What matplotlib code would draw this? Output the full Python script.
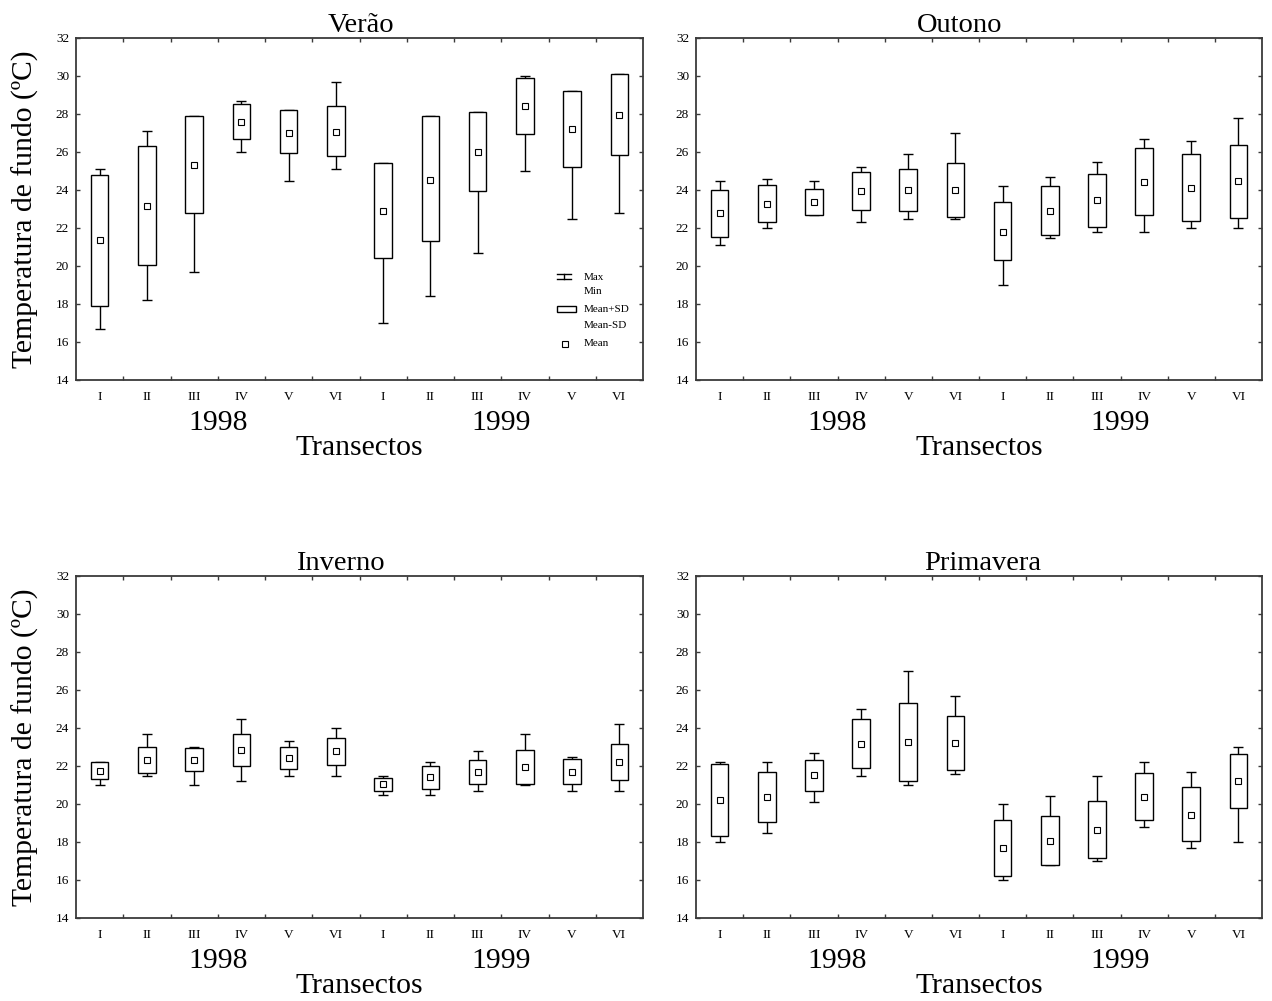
import numpy as np
import matplotlib
matplotlib.use('Agg')
from matplotlib import pyplot as plt
from matplotlib.patches import Rectangle

plt.rcParams['font.family'] = ['Liberation Serif', 'DejaVu Serif']

transectos = ['I', 'II', 'III', 'IV', 'V', 'VI'] * 2
anos = ['1998', '1999']

# per season: max, mean+SD, mean, mean-SD, min (1998 I..VI then 1999 I..VI)
verao_max = [25.1, 27.1, 27.9, 28.7, 28.2, 29.7, 25.4, 27.9, 28.1, 30.0, 29.2, 30.1]
verao_hi = [24.8, 26.3, 27.9, 28.5, 28.2, 28.4, 25.4, 27.9, 28.1, 29.9, 29.2, 30.1]
verao_mean = [21.35, 23.15, 25.3, 27.6, 27.0, 27.05, 22.9, 24.55, 26.0, 28.4, 27.2, 27.95]
verao_lo = [17.9, 20.05, 22.8, 26.7, 25.95, 25.8, 20.4, 21.3, 23.95, 26.95, 25.2, 25.85]
verao_min = [16.7, 18.2, 19.7, 26.0, 24.5, 25.1, 17.0, 18.4, 20.7, 25.0, 22.5, 22.8]

outono_max = [24.5, 24.6, 24.5, 25.2, 25.9, 27.0, 24.2, 24.7, 25.5, 26.7, 26.6, 27.8]
outono_hi = [24.0, 24.25, 24.05, 24.95, 25.1, 25.4, 23.35, 24.2, 24.85, 26.2, 25.9, 26.35]
outono_mean = [22.77, 23.25, 23.35, 23.95, 24.0, 24.0, 21.8, 22.9, 23.45, 24.4, 24.1, 24.45]
outono_lo = [21.55, 22.3, 22.7, 22.95, 22.9, 22.6, 20.3, 21.65, 22.07, 22.67, 22.37, 22.55]
outono_min = [21.1, 22.0, 22.7, 22.3, 22.5, 22.5, 19.0, 21.5, 21.8, 21.8, 22.0, 22.0]

inverno_max = [22.2, 23.7, 23.0, 24.5, 23.3, 24.0, 21.5, 22.2, 22.8, 23.7, 22.5, 24.2]
inverno_hi = [22.2, 23.0, 22.93, 23.7, 23.0, 23.5, 21.35, 22.0, 22.33, 22.85, 22.38, 23.15]
inverno_mean = [21.76, 22.3, 22.33, 22.84, 22.4, 22.77, 21.03, 21.41, 21.67, 21.96, 21.71, 22.22]
inverno_lo = [21.3, 21.65, 21.75, 22.0, 21.85, 22.03, 20.68, 20.8, 21.06, 21.07, 21.06, 21.25]
inverno_min = [21.0, 21.5, 21.0, 21.2, 21.5, 21.5, 20.5, 20.5, 20.7, 21.0, 20.7, 20.7]

primavera_max = [22.2, 22.2, 22.7, 25.0, 27.0, 25.7, 20.0, 20.4, 21.5, 22.2, 21.7, 23.0]
primavera_hi = [22.13, 21.67, 22.33, 24.5, 25.3, 24.65, 19.15, 19.37, 20.16, 21.62, 20.9, 22.65]
primavera_mean = [20.2, 20.35, 21.52, 23.17, 23.24, 23.22, 17.66, 18.07, 18.65, 20.39, 19.44, 21.23]
primavera_lo = [18.33, 19.03, 20.71, 21.88, 21.23, 21.81, 16.22, 16.8, 17.18, 19.15, 18.03, 19.81]
primavera_min = [18.0, 18.5, 20.1, 21.5, 21.0, 21.6, 16.0, 16.8, 17.0, 18.8, 17.7, 18.0]

estacoes = [
    ('Verão', verao_max, verao_hi, verao_mean, verao_lo, verao_min),
    ('Outono', outono_max, outono_hi, outono_mean, outono_lo, outono_min),
    ('Inverno', inverno_max, inverno_hi, inverno_mean, inverno_lo, inverno_min),
    ('Primavera', primavera_max, primavera_hi, primavera_mean, primavera_lo, primavera_min),
]
# title x position (axes fraction), the original isn't exactly centred
title_x = [0.503, 0.465, 0.466, 0.507]

fig = plt.figure(figsize=(12.72, 10.01), dpi=100)
W, H = 1272., 1001.
boxes = [(76, 38), (696, 38), (76, 576), (696, 576)]
spine_col = '#3a3a3a'


def draw_panel(ax, nome, vmax, vhi, vmean, vlo, vmin, ylab, tx):
    x = np.arange(len(transectos)) + 0.5
    bw = 0.375
    cw = 0.105
    ax.vlines(x, vmin, vmax, color='black', lw=1.0, zorder=2)
    ax.hlines(vmax, x - cw, x + cw, color='black', lw=1.0, zorder=2)
    ax.hlines(vmin, x - cw, x + cw, color='black', lw=1.0, zorder=2)
    for xi, lo, hi in zip(x, vlo, vhi):
        ax.add_patch(Rectangle((xi - bw / 2, lo), bw, hi - lo, facecolor='white',
                               edgecolor='black', lw=1.0, zorder=3))
    ax.plot(x, vmean, 's', ms=4.3, mfc='white', mec='black', mew=0.8, zorder=4)

    ax.set_xlim(0, 12)
    ax.set_ylim(14, 32)
    ax.set_yticks(np.arange(14, 33, 2))
    ax.set_xticks(x)
    ax.set_xticklabels(transectos)
    ax.set_xticks(np.arange(1, 12), minor=True)
    ax.tick_params(axis='x', which='major', length=0, pad=8, labelsize=9.5)
    ax.tick_params(axis='x', which='minor', direction='in', length=3, top=True, bottom=True,
                   width=1, color=spine_col)
    ax.tick_params(axis='y', direction='in', length=3, left=True, right=True, pad=5,
                   labelsize=9.5, width=1, color=spine_col)
    for s in ax.spines.values():
        s.set_color(spine_col)
        s.set_linewidth(1.3)

    ax.set_title(nome, fontsize=20.5, pad=4, x=tx)
    ax.text(3.0, -0.125, anos[0], transform=ax.get_xaxis_transform(), ha='center', va='center',
            fontsize=21.3)
    ax.text(9.0, -0.125, anos[1], transform=ax.get_xaxis_transform(), ha='center', va='center',
            fontsize=21.3)
    ax.text(0.5, -0.198, 'Transectos', transform=ax.transAxes, ha='center', va='center',
            fontsize=21.3)
    if ylab:
        ax.text(-0.09, 0.5, 'Temperatura de fundo (ºC)', transform=ax.transAxes, rotation=90,
                ha='center', va='center', fontsize=21.3)


for k, (est, box) in enumerate(zip(estacoes, boxes)):
    left, top = box
    w = 567 if left == 76 else 566
    h = 342
    ax = fig.add_axes([left / W, (H - top - h) / H, w / W, h / H])
    draw_panel(ax, *est, ylab=(left == 76), tx=title_x[k])
    if k == 0:
        # legend drawn by hand, as in the original
        def fx(px): return (px - 76) / 567.
        def fy(py): return (380 - py) / 342.
        t = ax.transAxes
        ax.plot([fx(557), fx(571)], [fy(274), fy(274)], color='black', lw=1, transform=t)
        ax.plot([fx(557), fx(571)], [fy(279), fy(279)], color='black', lw=1, transform=t)
        ax.plot([fx(564), fx(564)], [fy(274), fy(279)], color='black', lw=1, transform=t)
        ax.add_patch(Rectangle((fx(557), fy(312)), fx(576) - fx(557), fy(306) - fy(312),
                               facecolor='white', edgecolor='black', lw=1, transform=t))
        ax.plot([fx(565)], [fy(344)], 's', ms=4, mfc='white', mec='black', mew=0.8, transform=t)
        fs = 8
        ax.text(fx(584), fy(277), 'Max', transform=t, fontsize=fs, va='center')
        ax.text(fx(584), fy(292), 'Min', transform=t, fontsize=fs, va='center')
        ax.text(fx(584), fy(310), 'Mean+SD', transform=t, fontsize=fs, va='center')
        ax.text(fx(584), fy(325), 'Mean-SD', transform=t, fontsize=fs, va='center')
        ax.text(fx(584), fy(344), 'Mean', transform=t, fontsize=fs, va='center')

fig.savefig('out.png', dpi=100)
